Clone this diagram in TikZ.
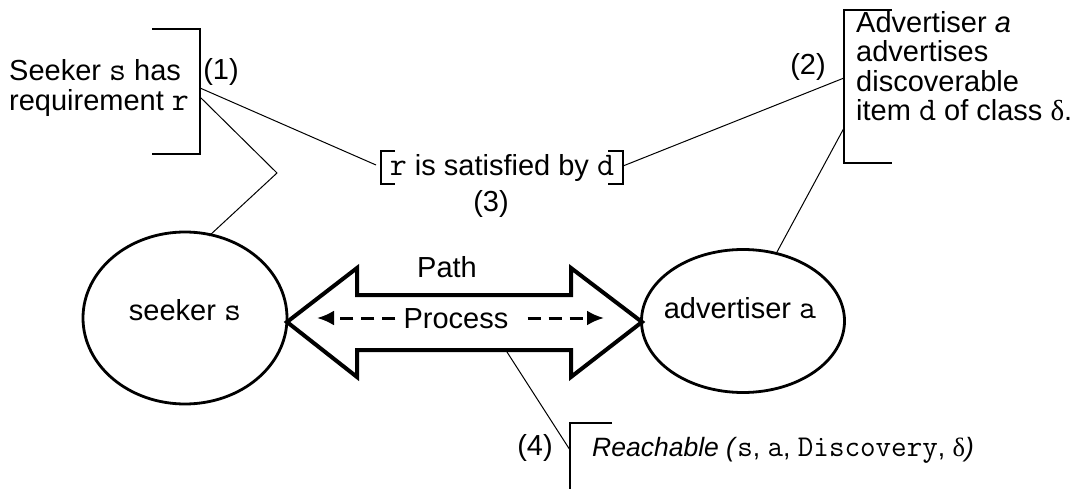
\documentclass[tikz,border=0pt]{standalone}
\usepackage{fontspec}
\setmainfont{Liberation Sans}
\setmonofont{Latin Modern Mono}[Scale=1.14]
\newfontfamily\greekf{Liberation Serif}
\usetikzlibrary{shapes.geometric,arrows.meta}
\begin{document}
\begin{tikzpicture}[x=1pt,y=-1pt,
  every node/.style={font=\fontsize{29}{29.5}\selectfont, inner sep=0pt},
  small/.style={font=\fontsize{26.5}{28}\selectfont},
  ell/.style={draw, ellipse, line width=2.8pt},
  thin/.style={line width=1pt},
  brk/.style={line width=1.8pt},
  bigarrow/.style={draw, line width=4pt, miter limit=10, line join=miter},
  dasharrow/.style={line width=3pt, dash pattern=on 13pt off 8pt, -{Latex[length=17pt,width=15pt]}}
]
\useasboundingbox (0,0) rectangle (1074,489);

% ellipses
\node[ell, minimum width=204pt, minimum height=172pt] (seeker) at (185,318) {};
\node (seekert) at (185,310) {seeker \texttt{s}};
\node[ell, minimum width=203pt, minimum height=143pt] (adv) at (743,321) {};
\node (advt) at (740,308) {advertiser \texttt{a}};

% double arrow
\coordinate (lt) at (287,322);
\coordinate (rt) at (642,322);
\draw[bigarrow] (lt) -- (357,268) -- (357,295) -- (571,295) -- (571,268) -- (rt)
  -- (571,377) -- (571,350) -- (357,350) -- (357,377) -- cycle;
\node (path) at (447,267) {Path};
\node (proc) at (456,319) {Process};
\coordinate (dl) at (317,318);
\coordinate (dr) at (604,318);
\draw[dasharrow] (proc.west) ++(-8,-1) -- (dl);
\draw[dasharrow] (proc.east) ++(19,-1) -- (dr);

% left text
\node[align=left, anchor=west] (seekreq) at (9,88) {Seeker \texttt{s} has\\requirement \texttt{r}};
\draw[brk] (152,29) -- (200,29) -- (200,154) -- (152,154);
\node (n1) at (221,72) {(1)};
\coordinate (b1a) at (200,88);
\coordinate (b1b) at (200,97);
\coordinate (kink) at (277,173);
\coordinate (s1) at (209,236);
\draw[thin] (b1b) -- (kink) -- (s1);

% middle text
\node (sat) at (502,168) {\texttt{r} is satisfied by \texttt{d}};
\draw[brk] (395,151) -- (381,151) -- (381,184) -- (395,184);
\draw[brk] (608,151) -- (623,151) -- (623,184) -- (608,184);
\coordinate (ml) at (376,165);
\coordinate (mr) at (623,166);
\draw[thin] (b1a) -- (ml);
\node (n3) at (491,204) {(3)};

% right text
\node[align=left, anchor=west] (advtext) at (856,66) {Advertiser \textit{a}\\advertises\\discoverable\\item \texttt{d} of class {\greekf δ}.};
\draw[brk] (892,10) -- (844,10) -- (844,163) -- (892,163);
\node (n2) at (808,67) {(2)};
\coordinate (b2a) at (844,78);
\coordinate (b2b) at (844,128);
\coordinate (s2) at (777,252);
\draw[thin] (mr) -- (b2a);
\draw[thin] (b2b) -- (s2);

% bottom
\draw[brk] (612,423) -- (570,423) -- (570,492);
\coordinate (b4) at (570,450);
\coordinate (p4) at (507,352);
\draw[thin] (p4) -- (b4);
\node (n4) at (535,448) {(4)};
\node[anchor=west, small] (reach) at (592,450) {\textit{Reachable (}\texttt{s}, \texttt{a}, \texttt{Discovery}, {\greekf δ}\textit{)}};
\end{tikzpicture}
\end{document}
